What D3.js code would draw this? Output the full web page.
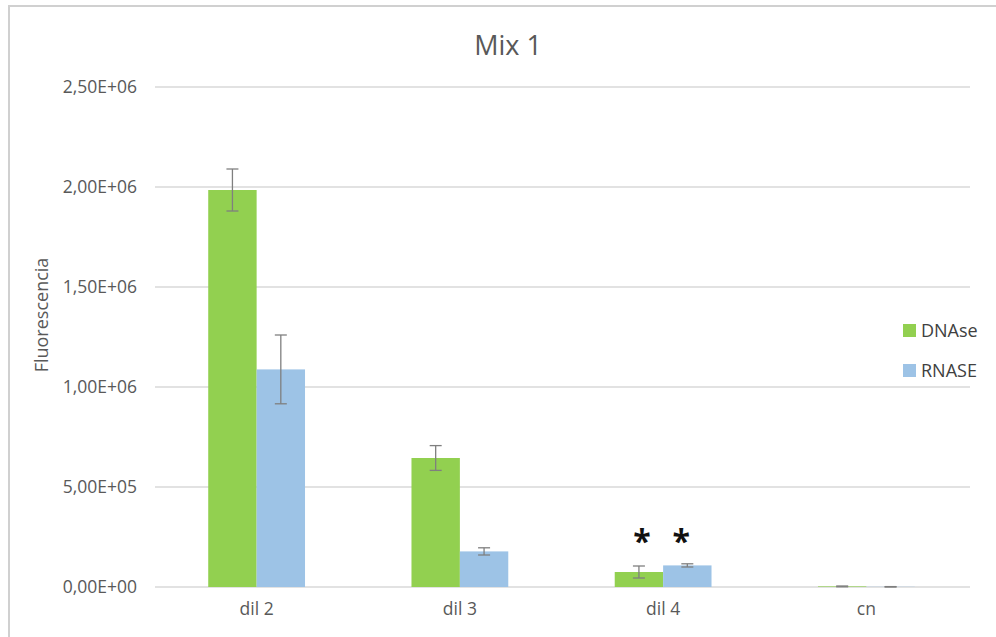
<!DOCTYPE html>
<html>
<head>
<meta charset="utf-8">
<script src="https://cdn.jsdelivr.net/npm/d3@7"></script>
<style>
  body { margin: 0; background: #fff; }
  text { font-family: "Open Sans", "Noto Sans", sans-serif; fill: #595959; }
</style>
</head>
<body>
<div id="chart"></div>
<script>
// data
var categories = ["dil 2", "dil 3", "dil 4", "cn"];
var series = ["DNAse", "RNASE"];
var dnaseValues = [1985000, 645000, 75000, 3000];
var dnaseErrors = [105000, 62000, 30000, 2000];
var rnaseValues = [1088000, 178000, 108000, 1000];
var rnaseErrors = [172000, 18000, 8000, 1000];
var yTicks = [0, 500000, 1000000, 1500000, 2000000, 2500000];
var starred = ["dil 4"];

var colors = {"DNAse": "#92D050", "RNASE": "#9DC3E6"};

var W = 996, H = 637;
var margin = {top: 87, right: 28, bottom: 50, left: 155},
    width = W - margin.left - margin.right,
    height = 587 - margin.top;

var svg = d3.select("#chart")
  .append("svg")
    .attr("width", W)
    .attr("height", H);

// outer frame (top and left edges only visible)
svg.append("path")
  .attr("d", "M9,637 V6 H996")
  .attr("fill", "none")
  .attr("stroke", "#d0d0d0")
  .attr("stroke-width", 2);

var g = svg.append("g")
  .attr("transform", "translate(" + margin.left + "," + margin.top + ")");

// build rows
var data = categories.map(function(c, i) {
  return {
    cat: c,
    vals: [
      {key: "DNAse", value: dnaseValues[i], err: dnaseErrors[i]},
      {key: "RNASE", value: rnaseValues[i], err: rnaseErrors[i]}
    ]
  };
});

var x0 = d3.scaleBand()
  .domain(categories)
  .range([0, width])
  .padding(0);

var x1 = d3.scaleBand()
  .domain(series)
  .range([0, x0.bandwidth()])
  .paddingInner(0)
  .paddingOuter(1.1);

var y = d3.scaleLinear()
  .domain([0, 2500000])
  .range([height, 0]);

// format like 2,50E+06
function sci(v) {
  if (v === 0) return "0,00E+00";
  var e = Math.floor(Math.log10(v));
  var m = v / Math.pow(10, e);
  return m.toFixed(2).replace(".", ",") + "E+" + (e < 10 ? "0" + e : e);
}

// gridlines
g.append("g")
  .selectAll("line")
  .data(yTicks)
  .enter().append("line")
    .attr("x1", 0)
    .attr("x2", width + 2)
    .attr("y1", function(d) { return y(d); })
    .attr("y2", function(d) { return y(d); })
    .attr("stroke", "#d9d9d9")
    .attr("stroke-width", 1.3);

// y axis labels
var yAxis = g.append("g")
  .call(d3.axisLeft(y).tickValues(yTicks).tickFormat(sci).tickSize(0).tickPadding(18));
yAxis.select(".domain").remove();
yAxis.selectAll("text")
  .style("font-size", "17.5px")
  .style("fill", "#595959")
  .style("font-family", "\"Open Sans\", sans-serif");

// x axis labels
var xAxis = g.append("g")
  .attr("transform", "translate(0," + height + ")")
  .call(d3.axisBottom(x0).tickSize(0).tickPadding(16));
xAxis.select(".domain").remove();
xAxis.selectAll("text")
  .style("font-size", "17.5px")
  .style("fill", "#595959")
  .style("font-family", "\"Open Sans\", sans-serif");

// bars
var groups = g.append("g")
  .selectAll("g")
  .data(data)
  .enter().append("g")
    .attr("transform", function(d) { return "translate(" + x0(d.cat) + ",0)"; });

groups.selectAll("rect")
  .data(function(d) { return d.vals; })
  .enter().append("rect")
    .attr("x", function(d) { return x1(d.key); })
    .attr("y", function(d) { return y(d.value); })
    .attr("width", x1.bandwidth())
    .attr("height", function(d) { return height - y(d.value); })
    .attr("fill", function(d) { return colors[d.key]; });

// error bars
var errs = groups.selectAll("g.err")
  .data(function(d) { return d.vals; })
  .enter().append("g")
    .attr("class", "err")
    .attr("stroke", "#7f7f7f")
    .attr("stroke-width", 1.3);

errs.append("line")
  .attr("x1", function(d) { return x1(d.key) + x1.bandwidth() / 2; })
  .attr("x2", function(d) { return x1(d.key) + x1.bandwidth() / 2; })
  .attr("y1", function(d) { return y(d.value + d.err); })
  .attr("y2", function(d) { return y(Math.max(0, d.value - d.err)); });
[1, -1].forEach(function(s) {
  errs.append("line")
    .attr("x1", function(d) { return x1(d.key) + x1.bandwidth() / 2 - 6; })
    .attr("x2", function(d) { return x1(d.key) + x1.bandwidth() / 2 + 6; })
    .attr("y1", function(d) { return y(Math.max(0, d.value + s * d.err)); })
    .attr("y2", function(d) { return y(Math.max(0, d.value + s * d.err)); });
});

// significance asterisks
groups.filter(function(d) { return starred.indexOf(d.cat) >= 0; })
  .selectAll("text.star")
  .data(function(d) { return d.vals; })
  .enter().append("text")
    .attr("class", "star")
    .attr("x", function(d, i) { return x1(d.key) + x1.bandwidth() / 2 + (i === 0 ? 3 : -6); })
    .attr("y", y(0) - 34)
    .attr("text-anchor", "middle")
    .style("font-size", "32px")
    .style("font-weight", "bold")
    .style("fill", "#111")
    .text("*");

// title
svg.append("text")
  .attr("x", 508)
  .attr("y", 55)
  .attr("text-anchor", "middle")
  .style("font-size", "27px")
  .text("Mix 1");

// y axis title
svg.append("text")
  .attr("transform", "translate(48,315) rotate(-90)")
  .attr("text-anchor", "middle")
  .style("font-size", "18px")
  .text("Fluorescencia");

// legend
var legend = svg.append("g")
  .selectAll("g")
  .data(series)
  .enter().append("g")
    .attr("transform", function(d, i) { return "translate(903," + (324 + i * 40) + ")"; });
legend.append("rect")
  .attr("width", 13)
  .attr("height", 13)
  .attr("fill", function(d) { return colors[d]; });
legend.append("text")
  .attr("x", 18)
  .attr("y", 13)
  .style("font-size", "18px")
  .style("fill", "#404040")
  .text(function(d) { return d; });
</script>
</body>
</html>
